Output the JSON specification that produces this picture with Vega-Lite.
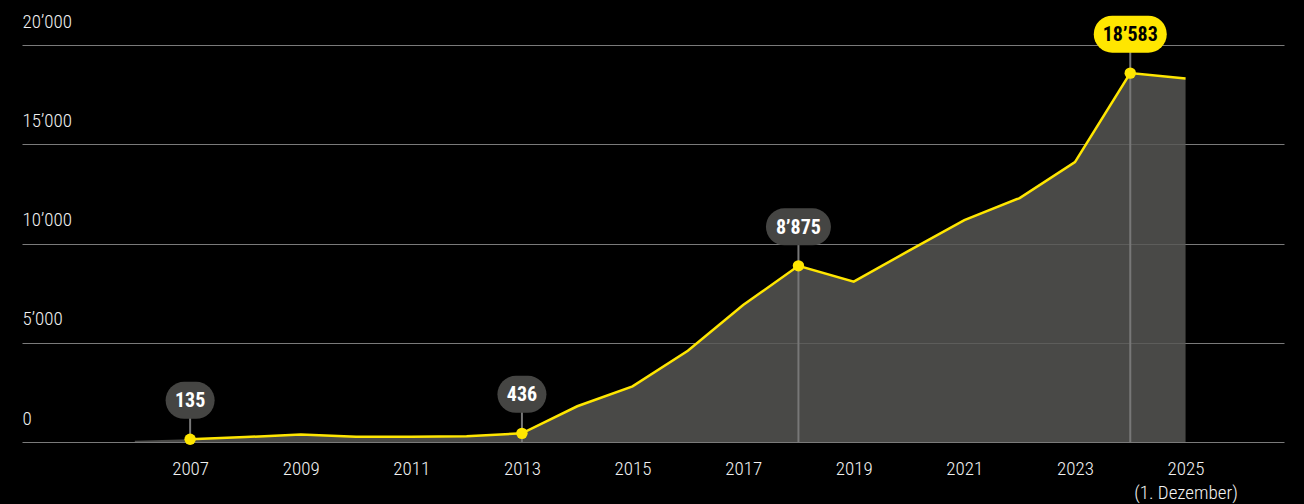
{
  "$schema": "https://vega.github.io/schema/vega-lite/v6.json",
  "width": 1262,
  "height": 397,
  "autosize": {"type": "none"},
  "padding": {"left": 22, "top": 45, "right": 20, "bottom": 62},
  "background": "#000000",
  "config": {
    "view": {"stroke": null},
    "font": "'Roboto Condensed', 'Noto Sans Condensed', 'Open Sans Condensed', 'DejaVu Sans Condensed', sans-serif"
  },
  "datasets": {
    "series": [
      {"year": 2006, "value": 60},
      {"year": 2007, "value": 135},
      {"year": 2008, "value": 250},
      {"year": 2009, "value": 380},
      {"year": 2010, "value": 270},
      {"year": 2011, "value": 270},
      {"year": 2012, "value": 290},
      {"year": 2013, "value": 436},
      {"year": 2014, "value": 1800},
      {"year": 2015, "value": 2800},
      {"year": 2016, "value": 4600},
      {"year": 2017, "value": 6900},
      {"year": 2018, "value": 8875},
      {"year": 2019, "value": 8075},
      {"year": 2020, "value": 9640},
      {"year": 2021, "value": 11180},
      {"year": 2022, "value": 12290},
      {"year": 2023, "value": 14100},
      {"year": 2024, "value": 18583},
      {"year": 2025, "value": 18310}
    ],
    "labels": [
      {"year": 2007, "value": 135, "label": "135"},
      {"year": 2013, "value": 436, "label": "436"},
      {"year": 2018, "value": 8875, "label": "8’875"},
      {"year": 2024, "value": 18583, "label": "18’583"}
    ]
  },
  "encoding": {
    "x": {
      "field": "year",
      "type": "quantitative",
      "scale": {"domain": [2003.96, 2026.78], "nice": false, "zero": false},
      "axis": {
        "title": null,
        "orient": "bottom",
        "values": [2007, 2009, 2011, 2013, 2015, 2017, 2019, 2021, 2023, 2025],
        "labelExpr": "datum.value == 2025 ? ['2025', '(1. Dezember)'] : format(datum.value, 'd')",
        "grid": false,
        "domain": false,
        "ticks": false,
        "tickSize": 0,
        "labelPadding": 17,
        "labelFontSize": 19,
        "labelFontWeight": 300,
        "labelColor": "#f2f2f2",
        "labelLineHeight": 24,
        "labelBaseline": "top",
        "labelFont": "'Roboto Condensed', 'Noto Sans Condensed', 'Open Sans Condensed', 'DejaVu Sans Condensed', sans-serif"
      }
    },
    "y": {
      "field": "value",
      "type": "quantitative",
      "scale": {"domain": [0, 20000], "nice": false},
      "axis": {
        "title": null,
        "orient": "left",
        "values": [0, 5000, 10000, 15000, 20000],
        "labelExpr": "datum.value == 0 ? '0' : replace(format(datum.value, ','), ',', '’')",
        "grid": true,
        "gridColor": "#7a7a7a",
        "gridWidth": 1,
        "domain": false,
        "ticks": false,
        "tickSize": 0,
        "labelPadding": 0,
        "labelAlign": "left",
        "labelBaseline": "alphabetic",
        "labelOffset": -18,
        "labelFontSize": 19,
        "labelFontWeight": 300,
        "labelColor": "#f2f2f2",
        "labelFont": "'Roboto Condensed', 'Noto Sans Condensed', 'Open Sans Condensed', 'DejaVu Sans Condensed', sans-serif"
      }
    }
  },
  "layer": [
    {
      "data": {"name": "series"},
      "mark": {"type": "area", "color": "#585856", "opacity": 0.83}
    },
    {
      "data": {"name": "labels"},
      "mark": {"type": "rule", "color": "#777777", "strokeWidth": 2, "yOffset": -39},
      "encoding": {"y2": {"datum": 0}}
    },
    {
      "data": {"name": "series"},
      "transform": [{"filter": "datum.year >= 2007"}],
      "mark": {"type": "line", "color": "#ffe600", "strokeWidth": 2.5}
    },
    {
      "data": {"name": "labels"},
      "mark": {"type": "point", "filled": true, "color": "#ffe600", "opacity": 1, "size": 130}
    },
    {
      "data": {"name": "labels"},
      "transform": [{"filter": "datum.year == 2007 || datum.year == 2013"}],
      "mark": {"type": "rule", "color": "#454543", "strokeWidth": 37, "strokeCap": "round", "yOffset": -39, "y2Offset": -39, "xOffset": -6, "x2Offset": 6},
      "encoding": {"x2": {"field": "year"}, "y2": {"field": "value"}}
    },
    {
      "data": {"name": "labels"},
      "transform": [{"filter": "datum.year == 2018"}],
      "mark": {"type": "rule", "color": "#454543", "strokeWidth": 37, "strokeCap": "round", "yOffset": -39, "y2Offset": -39, "xOffset": -14, "x2Offset": 14},
      "encoding": {"x2": {"field": "year"}, "y2": {"field": "value"}}
    },
    {
      "data": {"name": "labels"},
      "transform": [{"filter": "datum.year == 2024"}],
      "mark": {"type": "rule", "color": "#ffe600", "strokeWidth": 37, "strokeCap": "round", "yOffset": -39, "y2Offset": -39, "xOffset": -18, "x2Offset": 18},
      "encoding": {"x2": {"field": "year"}, "y2": {"field": "value"}}
    },
    {
      "data": {"name": "labels"},
      "mark": {"type": "text", "yOffset": -38, "fontSize": 20, "fontWeight": "bold", "baseline": "middle", "align": "center"},
      "encoding": {
        "text": {"field": "label"},
        "color": {"condition": {"test": "datum.year == 2024", "value": "#000000"}, "value": "#ffffff"}
      }
    }
  ]
}
